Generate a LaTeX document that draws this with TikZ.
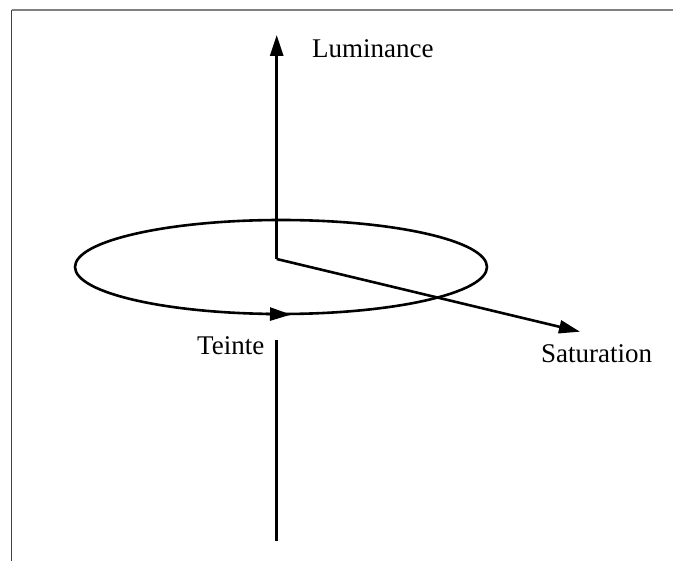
\documentclass[tikz,border=0pt]{standalone}
\usepackage{fontspec}
\setmainfont{Liberation Serif}
\usetikzlibrary{arrows.meta}
\begin{document}
\begin{tikzpicture}[x=1pt,y=-1pt,
  axis/.style={line width=2.6pt},
  arr/.style={line width=2.6pt,-{Triangle[length=21pt,width=13pt]}},
  lbl/.style={inner sep=0pt,anchor=base west,font=\fontsize{27}{32}\selectfont}]
\useasboundingbox (0,0) rectangle (673,561);
% frame
\draw[line width=1.3pt,gray] (11.5,10) -- (673,10);
\draw[line width=1.3pt,black!75] (11.5,10) -- (11.5,561);
% points
\coordinate (O) at (276.7,259);
\coordinate (Ltip) at (276.7,35);
\coordinate (Stip) at (580,331.7);
\coordinate (Dtop) at (276.7,340);
\coordinate (Dbot) at (276.7,540.7);
\coordinate (Ta) at (266,314);
\coordinate (Tb) at (291,314.6);
% hue circle
\draw[axis] (281,267) ellipse [x radius=206, y radius=47];
\draw[arr] (Ta) -- (Tb);
% axes
\draw[arr] (O) -- (Ltip);
\draw[arr] (O) -- (Stip);
\draw[axis] (Dtop) -- (Dbot);
% labels
\node[lbl] (lum) at (312,58) {Luminance};
\node[lbl] (tei) at (197,355) {Teinte};
\node[lbl] (sat) at (541,363) {Saturation};
\end{tikzpicture}
\end{document}
